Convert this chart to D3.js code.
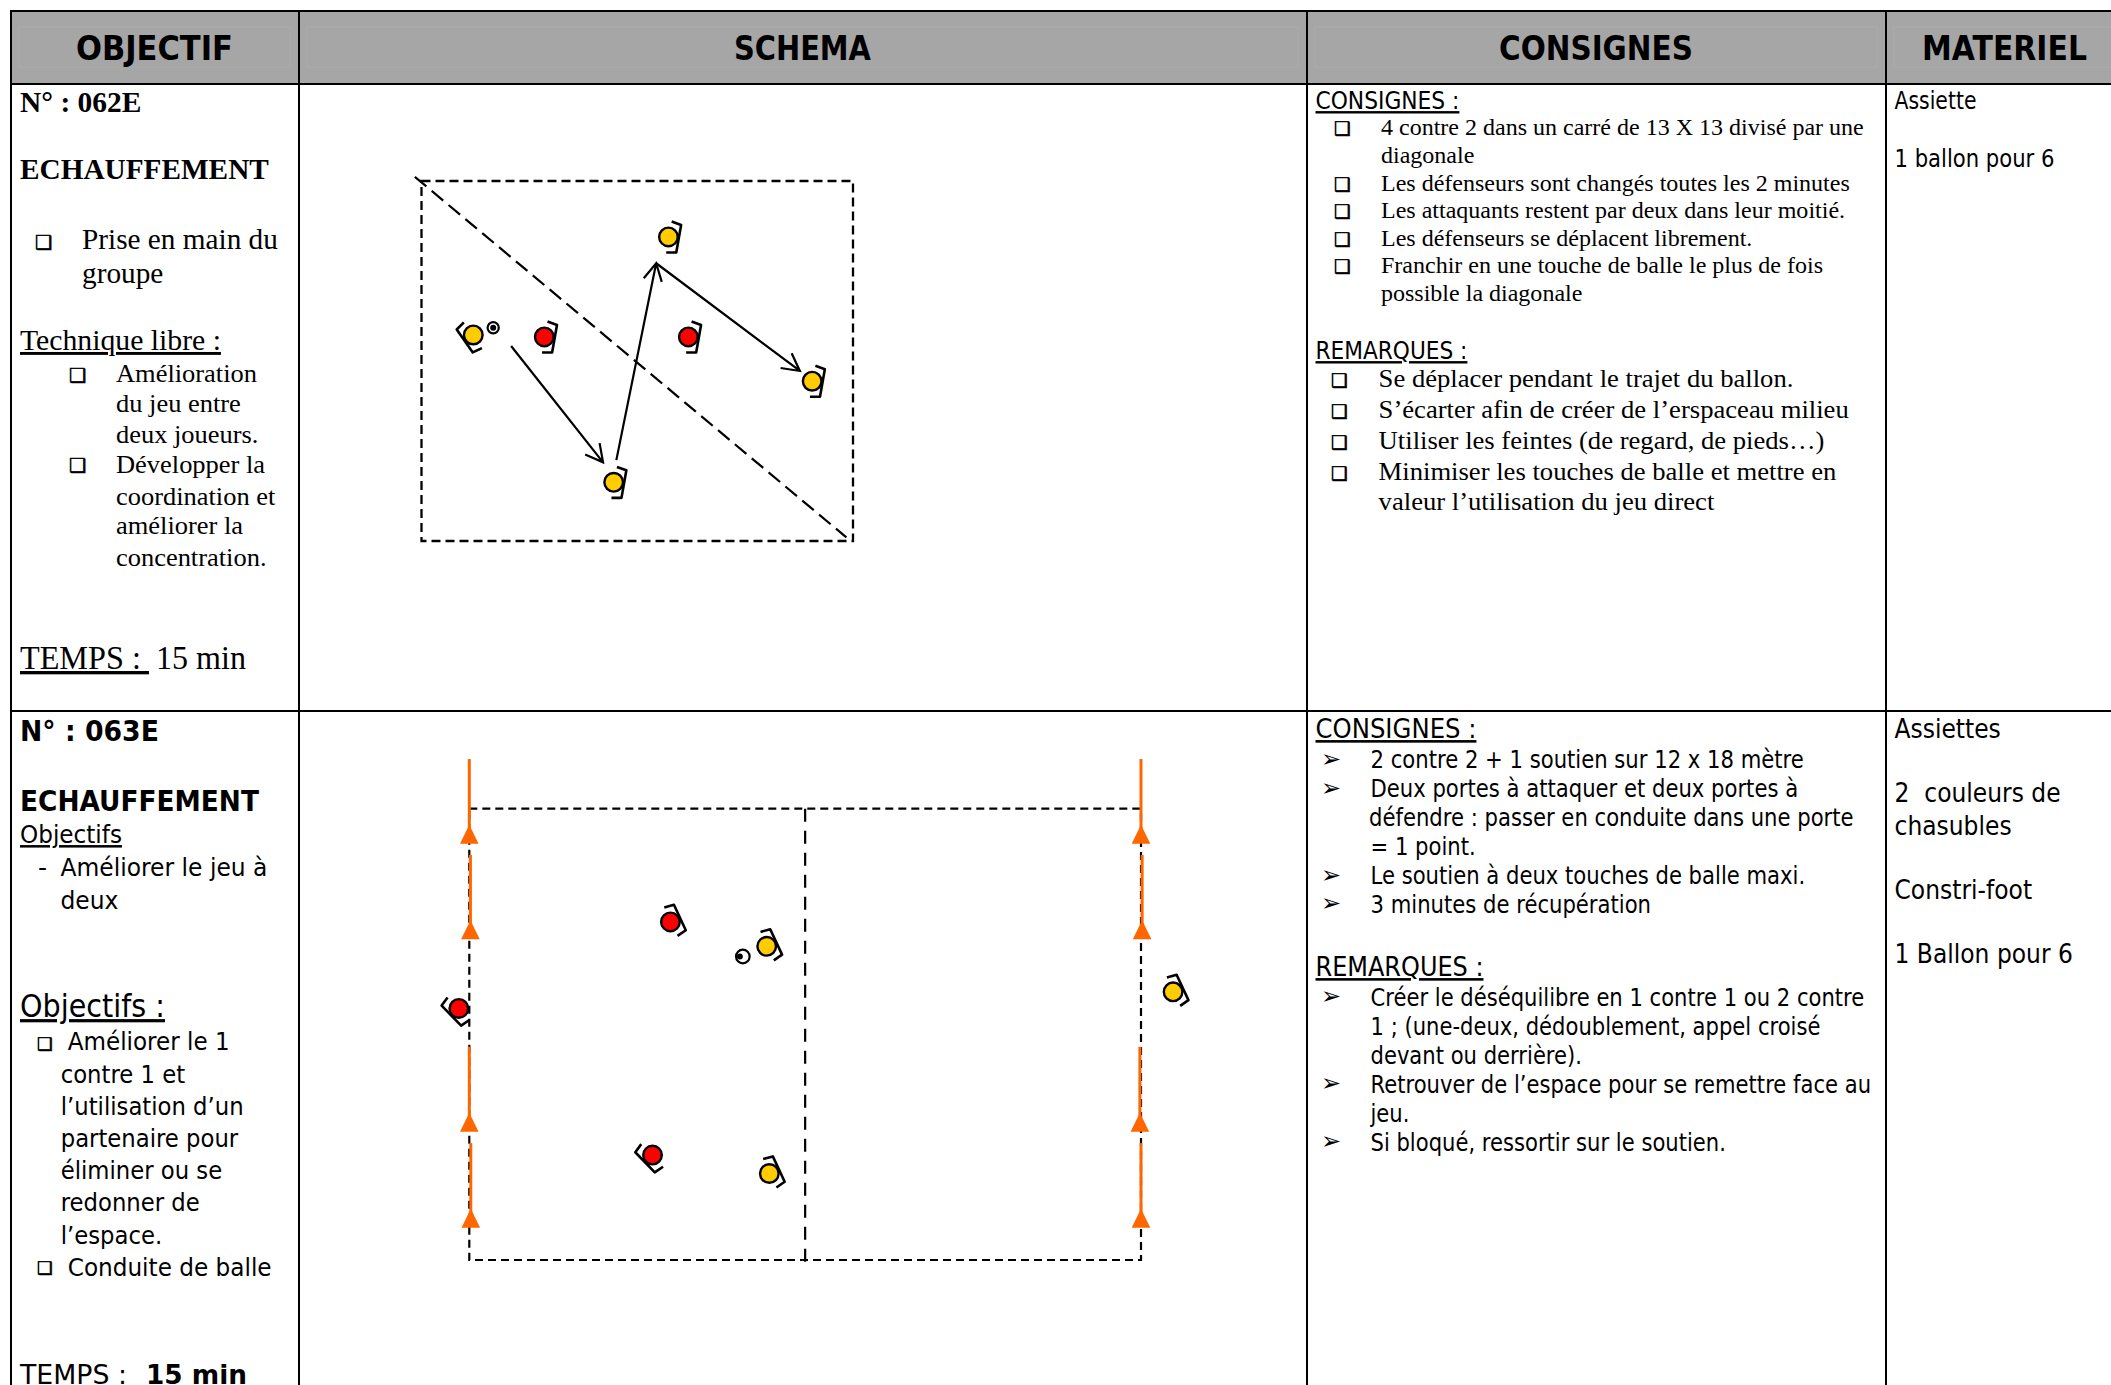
<!DOCTYPE html>
<html>
<head>
<meta charset="utf-8">
<style>
	html, body { margin: 0; padding: 0; background: #fff; overflow: hidden; }
	svg { display: block; }
</style>
<script src="https://cdn.jsdelivr.net/npm/d3@7"></script>
</head>
<body>
<svg id="sheet" width="2111" height="1385"></svg>
<script>
const columns = ['OBJECTIF', 'SCHEMA', 'CONSIGNES', 'MATERIEL'];

// exercise 062E, field is 13 x 13 : [x, y, facing]
const square_size	= [13, 13];
const square_yellow	= [[1.56, 5.56, 145], [7.44, 2.02, 10], [11.77, 7.23, 10], [5.79, 10.88, 10]];
const square_red	= [[3.70, 5.63, 10], [8.04, 5.63, 10]];
const square_ball	= [[2.16, 5.30]];
const square_passes	= [[[2.70, 5.96], [5.47, 10.16]], [[5.87, 10.08], [7.07, 2.97]], [[7.07, 2.97], [11.40, 6.86]]];
const square_diagonal	= [[-0.2, -0.15], [12.8, 12.87]];

// exercise 063E, field is 18 x 12
const pitch_size	= [18, 12];
const pitch_yellow	= [[7.97, 3.66, -25], [8.04, 9.70, -25], [18.86, 4.87, -25]];
const pitch_red		= [[5.39, 3.01, -25], [-0.28, 5.31, 136], [4.91, 9.21, 136]];
const pitch_ball	= [[7.33, 3.93]];
// [x, top, base]
const pitch_poles	= [
	[0, -1.32, 0.93], [0.03, 1.23, 3.47], [0, 6.33, 8.59], [0.04, 8.89, 11.14],
	[18, -1.32, 0.93], [18.03, 1.23, 3.47], [17.97, 6.33, 8.59], [18, 8.89, 11.14]
];

const obj1_head		= ['N° : 062E', 'ECHAUFFEMENT'];
const obj1_main		= ['Prise en main du', 'groupe'];
const obj1_title	= ['Technique libre :'];
const obj1_list		= ['Amélioration', 'du jeu entre', 'deux joueurs.', 'Développer la', 'coordination et', 'améliorer la', 'concentration.'];

const cons1_a		= ['4 contre 2 dans un carré de 13 X 13 divisé par une', 'diagonale', 'Les défenseurs sont changés toutes les 2 minutes', 'Les attaquants restent par deux dans leur moitié.', 'Les défenseurs se déplacent librement.', 'Franchir en une touche de balle le plus de fois', 'possible la diagonale'];
const cons1_b		= ['Se déplacer pendant le trajet du ballon.', 'S’écarter afin de créer de l’erspaceau milieu', 'Utiliser les feintes (de regard, de pieds…)', 'Minimiser les touches de balle et mettre en', 'valeur l’utilisation du jeu direct'];
const mat1		= ['Assiette', '1 ballon pour 6'];

const obj2_head		= ['N° : 063E', 'ECHAUFFEMENT'];
const obj2_small	= ['Améliorer le jeu à', 'deux'];
const obj2_list		= ['contre 1 et', 'l’utilisation d’un', 'partenaire pour', 'éliminer ou se', 'redonner de', 'l’espace.'];

const cons2_a		= ['2 contre 2 + 1 soutien sur 12 x 18 mètre', 'Deux portes à attaquer et deux portes à', 'défendre : passer en conduite dans une porte', '= 1 point.', 'Le soutien à deux touches de balle maxi.', '3 minutes de récupération'];
const cons2_b		= ['Créer le déséquilibre en 1 contre 1 ou 2 contre', '1 ; (une-deux, dédoublement, appel croisé', 'devant ou derrière).', 'Retrouver de l’espace pour se remettre face au', 'jeu.', 'Si bloqué, ressortir sur le soutien.'];
const mat2		= ['Assiettes', '2  couleurs de', 'chasubles', 'Constri-foot', '1 Ballon pour 6'];

const serif	= '"Liberation Serif"';
const sans	= '"DejaVu Sans"';

let svg = d3.select('#sheet');

// ---- table
let colLeft		= d3.scaleOrdinal(columns, [11, 299, 1307, 1886]);
let colRight	= d3.scaleOrdinal(columns, [299, 1307, 1886, 2129]);

let grid = svg.append('g').attr('id', 'grid');

grid.selectAll('rect.head').data(columns).join('rect')
	.attr('class', 'head')
	.attr('x', d => colLeft(d))
	.attr('y', 11)
	.attr('width', d => colRight(d) - colLeft(d))
	.attr('height', 73)
	.style('fill', '#a6a6a6');

grid.selectAll('rect.inner').data(columns).join('rect')
	.attr('class', 'inner')
	.attr('x', d => colLeft(d) + 8)
	.attr('y', 27)
	.attr('width', d => colRight(d) - colLeft(d) - 17)
	.attr('height', 40)
	.style('fill', 'none')
	.style('stroke', '#ababab');

function rule(x1, y1, x2, y2) {
	grid.append('line').attr('x1', x1).attr('y1', y1).attr('x2', x2).attr('y2', y2)
		.style('stroke', '#000').style('stroke-width', 2);
}

[11, 84, 711].forEach(y => rule(10, y, 2111, y));
[11, 299, 1307, 1886].forEach(x => rule(x, 10, x, 1385));

// ---- text helpers
function textLine(parent, str, x, y, font, size, weight, width, underline) {
	let t = parent.append('text')
		.style('white-space', 'pre')
		.style('font-family', font)
		.style('font-size', size + 'px')
		.style('font-weight', weight || 'normal')
		.style('fill', '#000')
		.text(str);

	if (underline) t.style('text-decoration', 'underline');

	let kx = width ? width / t.node().getComputedTextLength() : 1;
	t.attr('transform', 'translate(' + x + ',' + y + ') scale(' + kx + ',1)');
}

// every line of a block gets the same squeeze, taken from its reference line
function textBlock(parent, lines, x, ys, font, size, refIndex, refWidth) {
	let probe	= parent.append('text').style('font-family', font).style('font-size', size + 'px').style('white-space', 'pre').text(lines[refIndex]);
	let kx		= refWidth / probe.node().getComputedTextLength();
	probe.remove();

	lines.forEach((str, i) => {
		let tx = Array.isArray(x) ? x[i] : x;
		parent.append('text')
			.style('font-family', font).style('font-size', size + 'px').style('white-space', 'pre').style('fill', '#000')
			.attr('transform', 'translate(' + tx + ',' + ys[i] + ') scale(' + kx + ',1)')
			.text(str);
	});
}

function bullets(parent, glyph, x, ys, size) {
	parent.selectAll(null).data(ys).join('text')
		.attr('x', x).attr('y', d => d)
		.style('font-family', sans).style('font-size', size + 'px').style('fill', '#000')
		.style('stroke', '#000').style('stroke-width', glyph == '❑' ? 0.6 : 0)
		.text(glyph);
}

let copy = svg.append('g').attr('id', 'copy');

// ---- headers
let headWidth = [157, 137, 194, 165];
let headMid = [154.5, 802.5, 1596, 2004.5];
columns.forEach((c, i) => {
	textLine(copy, c, headMid[i] - headWidth[i] / 2, 60, sans, 33.5, 'bold', headWidth[i]);
});

// ---- row 1, objectif
textLine(copy, obj1_head[0], 20, 112, serif, 29, 'bold', 121.5);
textLine(copy, obj1_head[1], 20, 179, serif, 29, 'bold', 249);
textBlock(copy, obj1_main, 82, [249, 282.5], serif, 29, 0, 196);
bullets(copy, '❑', 35, [249], 19.5);
textLine(copy, obj1_title[0], 20, 350, serif, 29, 'normal', 201, true);
textBlock(copy, obj1_list, 116, [382, 412, 443, 473, 504.5, 534, 566], serif, 26, 0, 141);
bullets(copy, '❑', 69, [381.5, 472], 19.5);
textLine(copy, 'TEMPS : ', 20, 669, serif, 33, 'normal', 129, true);
textLine(copy, '15 min', 156, 669, serif, 33, 'normal', 90);

// ---- row 1, consignes
textLine(copy, 'CONSIGNES :', 1315.5, 109, sans, 24, 'normal', 144, true);
textBlock(copy, cons1_a, 1381, [135, 163, 191, 218, 246, 273, 301], serif, 23.5, 0, 483);
bullets(copy, '❑', 1334, [134.5, 190.5, 218, 245.5, 272.5], 18.5);
textLine(copy, 'REMARQUES :', 1315.5, 359, sans, 24, 'normal', 152, true);
textBlock(copy, cons1_b, 1378.6, [387, 418, 449, 480, 510], serif, 25.5, 3, 458);
bullets(copy, '❑', 1331, [386.5, 417.5, 448.5, 479.5], 18.5);

// ---- row 1, materiel
textLine(copy, mat1[0], 1894.5, 109, sans, 24, 'normal', 82);
textLine(copy, mat1[1], 1894.5, 167, sans, 24, 'normal', 160);

// ---- row 2, objectif
textLine(copy, obj2_head[0], 20, 740.6, sans, 29, 'bold', 139);
textLine(copy, obj2_head[1], 20, 810.5, sans, 29, 'bold', 239);
textLine(copy, 'Objectifs', 20, 843, sans, 25, 'normal', 102, true);
copy.append('text').attr('x', 38).attr('y', 876).style('font-family', sans).style('font-size', '25px').text('-');
textBlock(copy, obj2_small, 60.5, [876, 909], sans, 25, 0, 207);
textLine(copy, 'Objectifs :', 20, 1017, sans, 32, 'normal', 145, true);
bullets(copy, '❑', 37, [1049.5, 1274], 17.5);
textLine(copy, 'Améliorer le 1', 67.7, 1050, sans, 25, 'normal', 162);
textBlock(copy, obj2_list, 60.7, [1083, 1115, 1147, 1179, 1211, 1243.5], sans, 25, 1, 183);
textLine(copy, 'Conduite de balle', 67.7, 1276, sans, 25, 'normal', 204);
textLine(copy, 'TEMPS :', 20, 1384, sans, 27, 'normal', 107);
textLine(copy, '15 min', 146, 1384, sans, 27, 'bold', 101);

// ---- row 2, consignes
textLine(copy, 'CONSIGNES :', 1315.5, 738, sans, 26, 'normal', 161, true);
textBlock(copy, cons2_a, [1370.5, 1370.5, 1369, 1370.5, 1370.5, 1370.5], [768, 797, 826, 855, 884, 912.7], sans, 24.5, 2, 485);
bullets(copy, '➢', 1321, [766.5, 795.5, 882.5, 911], 24);
textLine(copy, 'REMARQUES :', 1315.5, 976, sans, 26, 'normal', 168, true);
textBlock(copy, cons2_b, 1370.5, [1005.7, 1035, 1064, 1092.7, 1121.7, 1150.7], sans, 24.5, 0, 494);
bullets(copy, '➢', 1321, [1004, 1091, 1149], 24);

// ---- row 2, materiel
textBlock(copy, mat2, 1894.5, [738, 802, 835, 898.7, 963], sans, 26, 4, 178.5);

// ---- drawings
const player_back = [[0.5, -15.7], [10.4, -14], [10.4, 14], [0.5, 15.7]];
let pathLine = d3.line();

function drawPlayer(g, x, y, angle, colour) {
	let p = g.append('g').attr('transform', 'translate(' + x + ',' + y + ')');
	p.append('path').attr('d', pathLine(player_back)).attr('transform', 'rotate(' + angle + ')')
		.style('fill', 'none').style('stroke', '#000').style('stroke-width', 2.6).style('stroke-linejoin', 'round');
	p.append('circle').attr('r', 9.3).style('fill', colour).style('stroke', '#000').style('stroke-width', 2.4);
}

function drawBall(g, x, y, r, dx) {
	g.append('circle').attr('cx', x).attr('cy', y).attr('r', r).style('fill', '#fff').style('stroke', '#000').style('stroke-width', 2.2);
	g.append('circle').attr('cx', x + dx).attr('cy', y).attr('r', 3).style('fill', '#000');
}

function drawPass(g, a, b) {
	let angle = Math.atan2(b[1] - a[1], b[0] - a[0]);
	let wing = sign => [b[0] - 19.5 * Math.cos(angle + sign * 0.49), b[1] - 19.5 * Math.sin(angle + sign * 0.49)];
	g.append('path').attr('d', pathLine([a, b]) + pathLine([wing(1), b, wing(-1)]))
		.style('fill', 'none').style('stroke', '#000').style('stroke-width', 2.2);
}

// 062E
let sx = d3.scaleLinear().domain([0, square_size[0]]).range([421.5, 853]);
let sy = d3.scaleLinear().domain([0, square_size[1]]).range([181, 541]);
let square = svg.append('g').attr('id', 'square');

square.append('rect')
	.attr('x', sx(0)).attr('y', sy(0)).attr('width', sx(square_size[0]) - sx(0)).attr('height', sy(square_size[1]) - sy(0))
	.style('fill', 'none').style('stroke', '#000').style('stroke-width', 2.3).style('stroke-dasharray', '9,5');

square.append('path')
	.attr('d', pathLine(square_diagonal.map(d => [sx(d[0]), sy(d[1])])))
	.style('fill', 'none').style('stroke', '#000').style('stroke-width', 2.2).style('stroke-dasharray', '15,6.95');

square_passes.forEach(d => drawPass(square, [sx(d[0][0]), sy(d[0][1])], [sx(d[1][0]), sy(d[1][1])]));
square_yellow.forEach(d => drawPlayer(square, sx(d[0]), sy(d[1]), d[2], '#ffcc00'));
square_red.forEach(d => drawPlayer(square, sx(d[0]), sy(d[1]), d[2], '#ff0000'));
square_ball.forEach(d => drawBall(square, sx(d[0]), sy(d[1]), 5.6, 0));

// 063E
let px = d3.scaleLinear().domain([0, pitch_size[0]]).range([469.3, 1141]);
let py = d3.scaleLinear().domain([0, pitch_size[1]]).range([808.7, 1260]);
let pitch = svg.append('g').attr('id', 'pitch');

pitch.append('rect')
	.attr('x', px(0)).attr('y', py(0)).attr('width', px(pitch_size[0]) - px(0)).attr('height', py(pitch_size[1]) - py(0))
	.style('fill', 'none').style('stroke', '#000').style('stroke-width', 2.2).style('stroke-dasharray', '8,5');

pitch.append('path')
	.attr('d', pathLine([[px(pitch_size[0] / 2), py(0)], [px(pitch_size[0] / 2), py(pitch_size[1]) + 3]]))
	.style('fill', 'none').style('stroke', '#000').style('stroke-width', 2.2).style('stroke-dasharray', '13,9');

pitch.selectAll('line.pole').data(pitch_poles).join('line')
	.attr('class', 'pole')
	.attr('x1', d => px(d[0])).attr('x2', d => px(d[0]))
	.attr('y1', d => py(d[1])).attr('y2', d => py(d[2]) - 10)
	.style('stroke', '#ff6600').style('stroke-width', 3);

pitch.selectAll('path.cone').data(pitch_poles).join('path')
	.attr('class', 'cone')
	.attr('d', d => d3.line()([[px(d[0]) - 9.3, py(d[2])], [px(d[0]), py(d[2]) - 19], [px(d[0]) + 9.3, py(d[2])]]) + 'Z')
	.style('fill', '#ff6600');

pitch_yellow.forEach(d => drawPlayer(pitch, px(d[0]), py(d[1]), d[2], '#ffcc00'));
pitch_red.forEach(d => drawPlayer(pitch, px(d[0]), py(d[1]), d[2], '#ff0000'));
pitch_ball.forEach(d => drawBall(pitch, px(d[0]), py(d[1]), 6.8, -3));
</script>
</body>
</html>
